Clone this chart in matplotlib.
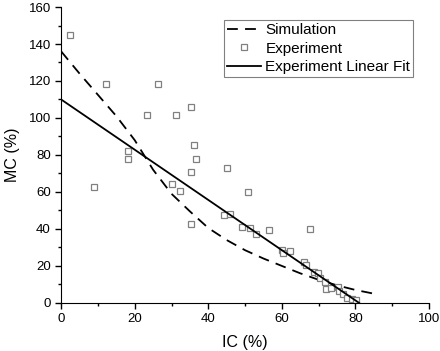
import matplotlib
matplotlib.use('Agg')
import matplotlib.pyplot as plt
from matplotlib.ticker import MultipleLocator

plt.rcParams['font.family'] = ['Liberation Sans', 'DejaVu Sans']

# simulation curve
sim_ic = [0, 5, 10, 15, 20, 25, 30, 35, 40, 45, 50, 55, 60, 65, 70, 75, 80, 85]
sim_mc = [136, 124, 112.5, 101, 88, 72, 59, 49.5, 40.5, 34, 28.5, 24, 20, 16, 12.5, 9.5, 7, 5]

# experimental points
exp_ic = [2.4, 12.2, 26.4, 23.4, 31.3, 35.3, 36.1, 36.7, 18.2, 18.2, 9.0, 30.2, 32.3,
          35.3, 35.3, 45.1, 50.8, 44.3, 45.9, 49.2, 51.4, 53.0, 56.5, 60.1, 60.3, 62.2,
          67.7, 66.0, 66.6, 68.8, 69.9, 70.4, 71.7, 72.0, 73.4, 75.3, 75.5, 76.6, 77.7,
          79.0, 80.2]
exp_mc = [145, 118.4, 118.4, 101.6, 101.6, 106, 85.4, 77.8, 82.2, 77.8, 62.7, 64.3, 60.5,
          70.8, 42.7, 73, 60, 47.6, 48.1, 41.1, 40.5, 37.3, 39.5, 28.6, 27, 28.1,
          40, 22.2, 20.5, 16.8, 16.2, 13.5, 11.4, 7.6, 8.1, 8.6, 6.5, 4.9, 2.7,
          2.2, 1.6]

# linear fit end points
fit_ic = [0, 81]
fit_mc = [110, 0]

fig = plt.figure(figsize=(4.4, 3.51), dpi=100)
ax = fig.add_axes([0.139, 0.137, 0.836, 0.843])

ax.plot(sim_ic, sim_mc, color='black', lw=1.3, dashes=(6, 4), label='Simulation')
ax.plot(exp_ic, exp_mc, ls='none', marker='s', ms=5, mfc='white', mec='#808080',
        mew=0.9, label='Experiment')
ax.plot(fit_ic, fit_mc, color='black', lw=1.3, label='Experiment Linear Fit')

ax.set_xlim(0, 100)
ax.set_ylim(0, 160)
ax.xaxis.set_major_locator(MultipleLocator(20))
ax.xaxis.set_minor_locator(MultipleLocator(10))
ax.yaxis.set_major_locator(MultipleLocator(20))
ax.yaxis.set_minor_locator(MultipleLocator(10))
ax.spines['top'].set_visible(False)
ax.spines['right'].set_visible(False)
ax.tick_params(which='major', direction='out', length=4, width=1, labelsize=9.5)
ax.tick_params(which='minor', direction='out', length=2.5, width=1)

ax.set_xlabel('IC (%)', fontsize=11.5, labelpad=7)
ax.set_ylabel('MC (%)', fontsize=11.5, labelpad=6)

leg = ax.legend(loc='upper left', bbox_to_anchor=(0.443, 0.956), fontsize=11,
                frameon=True, fancybox=False, edgecolor='#808080', framealpha=1,
                handlelength=2.2, handletextpad=0.3, borderpad=0.2, labelspacing=0.3,
                borderaxespad=0)
leg.get_frame().set_linewidth(0.8)

fig.savefig('out.png', dpi=100)
